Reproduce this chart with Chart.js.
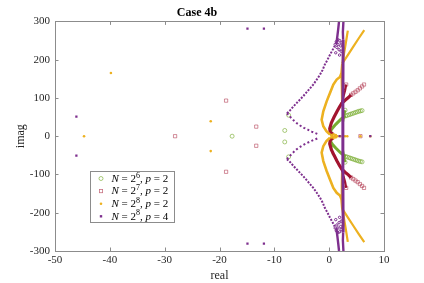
<!DOCTYPE html>
<html>
<head>
<meta charset="utf-8">
<title>Case 4b</title>
<script src="https://cdn.jsdelivr.net/npm/chart.js@4.4.1/dist/chart.umd.min.js"></script>
<style>
  html, body { margin: 0; padding: 0; background: #fff; }
  canvas { display: block; }
</style>
</head>
<body>
<canvas id="case4b" width="424" height="283"></canvas>
<script>
// axis ticks
const xTickVals = [-50, -40, -30, -20, -10, 0, 10];
const yTickVals = [-300, -200, -100, 0, 100, 200, 300];

// legend text: N = 2^exp, p = val
const legendExp = [6, 7, 8, 8];
const legendP = [2, 2, 2, 4];
const seriesColors = ["#77AC30", "#A2142F", "#EDB120", "#7E2F8E"];
const markerColors = ["rgba(119,172,48,0.8)", "rgba(162,20,47,0.6)", "#EDB120", "#7E2F8E"];

// N = 2^6, p = 2  (open circles)
const greenIso = [[-17.7, 0], [-8.1, 15], [-8.1, -15], [-7.4, 55], [-7.4, -54], [2.9, 68], [2.9, -68]];
const greenArmUp = [[3.0, 53], [3.3, 54.5], [3.6, 56], [3.9, 57.5], [4.2, 59], [4.5, 60.5], [4.8, 62], [5.1, 63.5], [5.4, 65], [5.7, 66], [6.0, 67]];
const greenArmLow = [[3.0, -53], [3.3, -54.5], [3.6, -56], [3.9, -57.5], [4.2, -59], [4.5, -60.5], [4.8, -62], [5.1, -63.5], [5.4, -65], [5.7, -66], [6.0, -67]];
const greenBandUp = [[0.6, 2], [0.2, 8], [0.3, 15], [0.7, 23], [1.2, 31], [1.7, 38], [2.2, 45], [2.7, 50], [3.0, 53]];
const greenBandLow = [[0.6, -2], [0.2, -8], [0.3, -15], [0.7, -23], [1.2, -31], [1.7, -38], [2.2, -45], [2.7, -50], [3.0, -53]];
const greenStemUp = [[2.5, 38], [2.7, 54], [2.9, 68]];
const greenStemLow = [[2.5, -38], [2.7, -54], [2.9, -68]];

// N = 2^7, p = 2  (open squares)
const redIso = [[-28.1, 0], [-18.8, 93], [-18.8, -93], [-13.3, 25], [-13.3, -25], [5.7, 0], [3.1, 135], [3.1, -135]];
const redArmUp = [[4.0, 108], [4.4, 112], [4.8, 116], [5.2, 120], [5.6, 125], [6.0, 130], [6.35, 135]];
const redArmLow = [[4.0, -108], [4.4, -112], [4.8, -116], [5.2, -120], [5.6, -125], [6.0, -130], [6.35, -135]];
const redBandUp = [[0.8, 4], [0.2, 10], [0.1, 20], [0.4, 35], [0.9, 50], [1.4, 64], [1.9, 77], [2.3, 86], [2.9, 94], [3.5, 101], [4.0, 108]];
const redBandLow = [[0.8, -4], [0.2, -10], [0.1, -20], [0.4, -35], [0.9, -50], [1.4, -64], [1.9, -77], [2.3, -86], [2.9, -94], [3.5, -101], [4.0, -108]];
const redStemUp = [[2.3, 86], [2.6, 104], [2.9, 120], [3.1, 135]];
const redStemLow = [[2.3, -86], [2.6, -104], [2.9, -120], [3.1, -135]];

// N = 2^8, p = 2  (dots)
const orangeIso = [[-44.7, 0], [-39.8, 165], [-21.6, 39], [-21.6, -39], [0.4, 3], [0.8, 5], [1.2, 3], [0.4, -3], [0.8, -5], [1.2, -3],
                   [0.6, 0], [1.0, 0], [1.5, 0], [2.0, 0], [2.9, 0], [3.3, 0], [5.7, 0], [7.5, 0]];
const orangeLoopUp = [[0.15, 4], [-0.5, 13], [-1.07, 26], [-1.37, 43], [-1.07, 65], [-0.46, 91], [0.15, 113], [0.76, 135], [1.37, 148], [1.97, 155], [2.25, 165], [2.4, 190]];
const orangeLoopLow = [[0.15, -4], [-0.5, -13], [-1.07, -26], [-1.37, -43], [-1.07, -65], [-0.46, -91], [0.15, -113], [0.76, -135], [1.37, -148], [1.97, -155], [2.25, -165], [2.4, -190]];
const orangeBackUp = [[2.25, 165], [2.3, 130], [2.35, 95]];
const orangeBackLow = [[2.25, -165], [2.3, -130], [2.35, -95]];
const orangeArmBUp = [[2.4, 190], [3.4, 212], [4.4, 234], [5.4, 256], [6.4, 277]];
const orangeArmBLow = [[2.4, -190], [3.4, -212], [4.4, -234], [5.4, -256], [6.4, -277]];
const orangeArmAUp = [[2.4, 190], [2.7, 215], [3.0, 240], [3.2, 258], [3.4, 276]];
const orangeArmALow = [[2.4, -190], [2.7, -215], [3.0, -240], [3.2, -258], [3.4, -276]];

// N = 2^8, p = 4  (dots)
const purpleIso = [[-46.1, 51], [-46.1, -51], [-14.9, 281], [-14.9, -281], [-11.9, 281], [-11.9, -281], [1.9, 0], [2.5, 0], [7.5, 0]];
const purpleOuterUp = [[-7.7, 60], [-7.1, 68], [-6.5, 78], [-5.9, 87], [-5.3, 96], [-4.7, 105], [-4.1, 115], [-3.5, 125], [-2.9, 135], [-2.3, 147],
                       [-1.7, 160], [-1.2, 173], [-0.8, 187], [-0.3, 200], [0.15, 213], [0.5, 222], [0.8, 230], [1.0, 236]];
const purpleOuterLow = [[-7.7, -60], [-7.1, -68], [-6.5, -78], [-5.9, -87], [-5.3, -96], [-4.7, -105], [-4.1, -115], [-3.5, -125], [-2.9, -135], [-2.3, -147],
                        [-1.7, -160], [-1.2, -173], [-0.8, -187], [-0.3, -200], [0.15, -213], [0.5, -222], [0.8, -230], [1.0, -236]];
const purpleInnerUp = [[-7.7, 60], [-7.2, 52], [-6.6, 43], [-6.0, 35], [-5.3, 28], [-4.6, 22], [-3.9, 17], [-3.2, 12], [-2.5, 8], [-2.0, 5]];
const purpleInnerLow = [[-7.7, -60], [-7.2, -52], [-6.6, -43], [-6.0, -35], [-5.3, -28], [-4.6, -22], [-3.9, -17], [-3.2, -12], [-2.5, -8], [-2.0, -5]];
const purpleKnot = [[1.1, 240], [1.3, 247], [1.6, 252], [1.9, 250], [2.2, 244], [1.4, 232], [1.8, 226], [2.1, 236], [1.2, 218], [1.9, 212], [2.2, 222], [1.6, 240],
                    [1.1, -240], [1.3, -247], [1.6, -252], [1.9, -250], [2.2, -244], [1.4, -232], [1.8, -226], [2.1, -236], [1.2, -218], [1.9, -212], [2.2, -222], [1.6, -240]];
const purpleSpine = [[2.55, -252], [2.5, -100], [2.5, 0], [2.5, 100], [2.55, 252]];
const purpleLeftUp = [[1.3, 240], [1.5, 262], [1.65, 280], [1.8, 300]];
const purpleLeftLow = [[1.3, -240], [1.5, -262], [1.65, -280], [1.8, -300]];
const purpleRightUp = [[2.55, 252], [2.5, 272], [2.6, 300]];
const purpleRightLow = [[2.55, -252], [2.5, -272], [2.6, -300]];

const serif = "'Liberation Serif', 'Times New Roman', serif";

function pts(arr) {
    return arr.map(p => ({ x: p[0], y: p[1] }));
}

// dense eigenvalue branches drawn as thick lines
function branch(arr, color, width, order, dash) {
    return {
        label: "",
        data: pts(arr),
        showLine: true,
        borderColor: color,
        borderWidth: width,
        borderDash: dash || [],
        pointRadius: 0,
        pointHoverRadius: 0,
        fill: false,
        order: order
    };
}

// inward ticks + box, like the original axes
const axesBox = {
    id: "axesBox",
    afterDraw(chart) {
        const { ctx, chartArea: a, scales } = chart;
        const tl = 3.5;
        ctx.save();
        ctx.strokeStyle = "#8c8c8c";
        ctx.lineWidth = 1;
        ctx.beginPath();
        xTickVals.forEach(v => {
            const px = Math.round(scales.x.getPixelForValue(v)) + 0.5;
            ctx.moveTo(px, a.bottom); ctx.lineTo(px, a.bottom - tl);
            ctx.moveTo(px, a.top); ctx.lineTo(px, a.top + tl);
        });
        yTickVals.forEach(v => {
            const py = Math.round(scales.y.getPixelForValue(v)) + 0.5;
            ctx.moveTo(a.left, py); ctx.lineTo(a.left + tl, py);
            ctx.moveTo(a.right, py); ctx.lineTo(a.right - tl, py);
        });
        ctx.stroke();
        ctx.strokeRect(Math.round(a.left) + 0.5, Math.round(a.top) + 0.5,
                       Math.round(a.right - a.left), Math.round(a.bottom - a.top));
        ctx.restore();
    }
};

// legend box in the lower left, with superscripts
const mathLegend = {
    id: "mathLegend",
    afterDraw(chart) {
        const { ctx, chartArea: a } = chart;
        const x0 = Math.round(a.left) + 35.5, y0 = Math.round(a.top) + 150.5;
        const w = 84, h = 51;
        ctx.save();
        ctx.fillStyle = "#fff";
        ctx.fillRect(x0, y0, w, h);
        ctx.strokeStyle = "#8c8c8c";
        ctx.lineWidth = 1;
        ctx.strokeRect(x0, y0, w, h);

        for (let i = 0; i < 4; i++) {
            const my = y0 + 7 + i * 12.6;
            const mx = x0 + 10.5;
            ctx.strokeStyle = markerColors[i];
            ctx.fillStyle = markerColors[i];
            ctx.lineWidth = 0.8;
            if (i === 0) {
                ctx.beginPath(); ctx.arc(mx, my, 2, 0, Math.PI * 2); ctx.stroke();
            } else if (i === 1) {
                ctx.strokeRect(mx - 1.6, my - 1.6, 3.2, 3.2);
            } else if (i === 2) {
                ctx.beginPath(); ctx.arc(mx, my, 1.3, 0, Math.PI * 2); ctx.fill();
            } else {
                ctx.fillRect(mx - 1.2, my - 1.2, 2.4, 2.4);
            }

            const parts = [
                ["N", "italic 11px " + serif, 0],
                [" = 2", "11px " + serif, 0],
                [String(legendExp[i]), "8px " + serif, -3.5],
                [", ", "11px " + serif, 0],
                ["p", "italic 11px " + serif, 0],
                [" = " + legendP[i], "11px " + serif, 0]
            ];
            let tx = x0 + 21;
            ctx.fillStyle = "#000";
            ctx.textBaseline = "middle";
            parts.forEach(p => {
                ctx.font = p[1];
                ctx.fillText(p[0], tx, my + 0.5 + p[2]);
                tx += ctx.measureText(p[0]).width;
            });
        }
        ctx.restore();
    }
};

document.addEventListener("DOMContentLoaded", function () {
    const ctx = document.getElementById("case4b").getContext("2d");
    const [cG, cR, cO, cP] = seriesColors;

    new Chart(ctx, {
        type: "scatter",
        data: {
            datasets: [
                { label: "N = 2⁶, p = 2", data: pts(greenIso.concat(greenArmUp, greenArmLow)), pointStyle: "circle", pointRadius: 2,
                  borderColor: markerColors[0], backgroundColor: "rgba(0,0,0,0)", borderWidth: 0.8, order: 4 },
                { label: "N = 2⁷, p = 2", data: pts(redIso.concat(redArmUp, redArmLow)), pointStyle: "rect", pointRadius: 2.3,
                  borderColor: markerColors[1], backgroundColor: "rgba(0,0,0,0)", borderWidth: 0.8, order: 3 },
                { label: "N = 2⁸, p = 2", data: pts(orangeIso), pointStyle: "circle", pointRadius: 1.3,
                  borderColor: cO, backgroundColor: cO, borderWidth: 0, order: 2 },
                { label: "N = 2⁸, p = 4", data: pts(purpleIso), pointStyle: "rect", pointRadius: 1.6,
                  borderColor: cP, backgroundColor: cP, borderWidth: 0, order: 1 },

                branch(greenBandUp, cG, 3, 4), branch(greenBandLow, cG, 3, 4),
                branch(greenStemUp, cG, 2.5, 4), branch(greenStemLow, cG, 2.5, 4),

                branch(redBandUp, cR, 3.2, 3), branch(redBandLow, cR, 3.2, 3),
                branch(redStemUp, cR, 2.3, 3), branch(redStemLow, cR, 2.3, 3),

                branch(orangeLoopUp, cO, 2.6, 2), branch(orangeLoopLow, cO, 2.6, 2),
                branch(orangeBackUp, cO, 2.2, 2), branch(orangeBackLow, cO, 2.2, 2),
                branch(orangeArmBUp, cO, 2.2, 2), branch(orangeArmBLow, cO, 2.2, 2),
                branch(orangeArmAUp, cO, 2.2, 2), branch(orangeArmALow, cO, 2.2, 2),

                branch(purpleOuterUp, cP, 2, 1, [2, 1.4]), branch(purpleOuterLow, cP, 2, 1, [2, 1.4]),
                branch(purpleInnerUp, cP, 2, 1, [2, 2.4]), branch(purpleInnerLow, cP, 2, 1, [2, 2.4]),
                branch(purpleSpine, cP, 3, 1),
                branch(purpleLeftUp, cP, 2.4, 1), branch(purpleLeftLow, cP, 2.4, 1),
                branch(purpleRightUp, cP, 2.4, 1), branch(purpleRightLow, cP, 2.4, 1),
                { label: "", data: pts(purpleKnot), pointStyle: "circle", pointRadius: 1.2, borderColor: cP,
                  backgroundColor: "rgba(0,0,0,0)", borderWidth: 1, order: 1 }
            ]
        },
        options: {
            responsive: false,
            animation: false,
            events: [],
            layout: { padding: { left: 10, right: 40, top: 0, bottom: 0 } },
            plugins: {
                legend: { display: false },
                tooltip: { enabled: false },
                title: {
                    display: true,
                    text: "Case 4b",
                    color: "#000",
                    font: { family: serif, size: 12, weight: "bold" },
                    padding: { top: 6, bottom: 1 }
                }
            },
            scales: {
                x: {
                    type: "linear",
                    min: -50,
                    max: 10,
                    afterBuildTicks: s => { s.ticks = xTickVals.map(v => ({ value: v })); },
                    afterFit: s => { s.height = 32; },
                    grid: { display: false, drawTicks: false },
                    border: { display: false },
                    ticks: { color: "#262626", padding: 3, font: { family: serif, size: 11 }, callback: v => String(v) },
                    title: { display: true, text: "real", color: "#262626", font: { family: serif, size: 12 }, padding: { top: 0, bottom: 0 } }
                },
                y: {
                    type: "linear",
                    min: -300,
                    max: 300,
                    afterBuildTicks: s => { s.ticks = yTickVals.map(v => ({ value: v })); },
                    afterFit: s => { s.width = 45; },
                    grid: { display: false, drawTicks: false },
                    border: { display: false },
                    ticks: { color: "#262626", padding: 5, font: { family: serif, size: 11 }, callback: v => String(v) },
                    title: { display: true, text: "imag", color: "#262626", font: { family: serif, size: 12 }, padding: { top: 4, bottom: 0 } }
                }
            }
        },
        plugins: [axesBox, mathLegend]
    });
});
</script>
</body>
</html>
